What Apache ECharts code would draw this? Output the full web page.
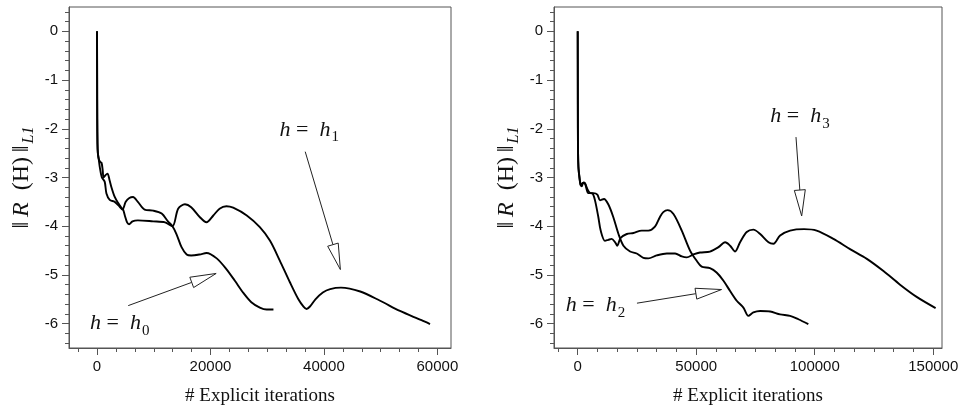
<!DOCTYPE html>
<html><head><meta charset="utf-8">
<script src="https://cdn.jsdelivr.net/npm/echarts@6/dist/echarts.min.js"></script>
<style>html,body{margin:0;padding:0;background:#fff}#c{width:964px;height:411px}</style>
</head><body><div id="c"></div>
<script>
// ---------- data (left panel) ----------
const h0X = [0, 20, 40, 80, 150, 300, 480, 830, 1360, 1660, 2240, 3120, 4000, 4470, 5060, 5700, 6350, 7200, 8400, 9900, 11400, 12500, 13300, 14000, 14900, 15800, 16600, 18100, 19300, 21100, 22800, 24300, 25800, 27200, 28700, 29900, 31100];
const h0Y = [0, -1.0, -1.8, -2.3, -2.5, -2.62, -2.78, -2.99, -3.09, -3.33, -3.46, -3.5, -3.6, -3.66, -3.5, -3.42, -3.40, -3.5, -3.66, -3.68, -3.74, -3.9, -4.0, -4.16, -4.43, -4.58, -4.6, -4.58, -4.55, -4.66, -4.88, -5.12, -5.37, -5.56, -5.67, -5.71, -5.71];
const h1X = [0, 20, 40, 80, 150, 300, 550, 800, 1000, 1150, 1500, 1850, 2200, 2540, 3120, 3700, 4300, 4600, 4900, 5300, 5650, 6250, 7200, 9900, 12000, 13300, 14300, 15500, 16600, 18100, 19300, 20500, 21600, 22800, 24000, 26400, 28700, 30500, 32200, 34000, 35500, 36400, 36950, 37600, 38500, 39800, 41100, 43000, 46400, 49900, 53400, 57200, 58700];
const h1Y = [0, -1.0, -1.8, -2.3, -2.5, -2.62, -2.68, -2.7, -2.85, -3.0, -2.95, -2.92, -3.05, -3.2, -3.4, -3.52, -3.62, -3.66, -3.78, -3.92, -3.96, -3.9, -3.88, -3.9, -3.92, -4.0, -3.64, -3.55, -3.61, -3.81, -3.92, -3.78, -3.64, -3.59, -3.62, -3.78, -4.02, -4.3, -4.7, -5.15, -5.5, -5.65, -5.70, -5.64, -5.5, -5.36, -5.29, -5.26, -5.34, -5.53, -5.74, -5.93, -6.01];
// ---------- data (right panel) ----------
const h2X = [0, 40, 80, 150, 300, 500, 700, 1200, 1700, 2400, 3100, 4200, 5200, 6300, 7300, 8700, 9700, 11500, 12900, 14300, 15800, 16700, 18100, 20700, 23500, 27000, 29800, 32600, 34700, 36100, 37900, 40400, 43900, 47400, 50200, 52300, 55800, 58600, 61500, 64300, 67100, 69900, 72000, 74100, 77000, 81200, 85400, 89600, 93100, 97300];
const h2Y = [0, -1.0, -2.0, -2.5, -2.78, -2.9, -3.0, -3.15, -3.18, -3.1, -3.12, -3.25, -3.32, -3.33, -3.47, -3.81, -4.09, -4.30, -4.28, -4.26, -4.33, -4.40, -4.24, -4.16, -4.14, -4.09, -4.09, -4.01, -3.81, -3.71, -3.67, -3.75, -4.09, -4.5, -4.71, -4.83, -4.86, -4.95, -5.12, -5.33, -5.53, -5.67, -5.84, -5.77, -5.74, -5.75, -5.81, -5.84, -5.91, -6.01];
const h3X = [0, 40, 80, 150, 300, 500, 700, 1300, 2100, 3100, 4500, 6600, 8300, 9400, 11100, 12900, 15000, 17200, 19300, 22100, 24900, 27700, 29800, 33300, 37600, 41100, 43900, 46000, 48800, 51600, 55800, 59400, 62200, 64300, 66400, 68500, 71300, 74100, 77000, 80500, 82600, 85400, 89600, 95500, 100800, 107900, 114900, 122000, 129000, 136000, 143000, 151000];
const h3Y = [0, -1.0, -2.0, -2.5, -2.78, -2.9, -2.96, -3.16, -3.11, -3.13, -3.32, -3.32, -3.35, -3.47, -3.44, -3.55, -3.81, -4.16, -4.4, -4.52, -4.56, -4.65, -4.66, -4.6, -4.56, -4.56, -4.62, -4.64, -4.58, -4.54, -4.52, -4.43, -4.33, -4.4, -4.52, -4.33, -4.12, -4.07, -4.16, -4.33, -4.36, -4.19, -4.09, -4.06, -4.09, -4.26, -4.47, -4.67, -4.92, -5.2, -5.45, -5.68];
// ---------- ticks ----------
const xMajorL = [0, 20000, 40000, 60000];
const xMinorL = [-3333, 3333, 6667, 10000, 13333, 16667, 23333, 26667, 30000, 33333, 36667, 43333, 46667, 50000, 53333, 56667];
const xMajorR = [0, 50000, 100000, 150000];
const xMinorR = [-8333, 8333, 16667, 25000, 33333, 41667, 58333, 66667, 75000, 83333, 91667, 108333, 116667, 125000, 133333, 141667];
const yMajor = [-6, -5, -4, -3, -2, -1, 0];
const yMinor = [-6.4, -6.2, -5.8, -5.6, -5.4, -5.2, -4.8, -4.6, -4.4, -4.2, -3.8, -3.6, -3.4, -3.2, -2.8, -2.6, -2.4, -2.2, -1.8, -1.6, -1.4, -1.2, -0.8, -0.6, -0.4, -0.2, 0.2, 0.4];
// ---------- annotations (data coords) ----------
const labelsL = [[4000, -6.0, 0], [37400, -2.02, 1]];
const arrowsL = [[5500, -5.63, 21000, -4.97], [36700, -2.47, 42900, -4.89]];
const labelsR = [[93800, -1.75, 3], [7500, -5.63, 2]];
const arrowsR = [[92100, -2.17, 94500, -3.79], [25000, -5.58, 60700, -5.30]];
const labelSubs = ['0', '1', '2', '3'];

const zip = (a, b) => a.map((v, i) => [v, b[i]]);
const SERIF = 'Liberation Serif';
const SANS = 'Liberation Sans';
const AX = '#555';

function mainX(grid, min, max, ticks) {
  return {
    type: 'value', gridIndex: grid, min, max, position: 'bottom',
    axisLine: { show: true, onZero: false, lineStyle: { color: AX, width: 1 } },
    axisTick: { show: true, customValues: ticks, length: 7, lineStyle: { color: AX } },
    axisLabel: { customValues: ticks, margin: 11, fontFamily: SANS, fontSize: 15, color: '#111', formatter: v => String(v) },
    splitLine: { show: false },
    name: '# Explicit iterations', nameLocation: 'middle', nameGap: 39,
    nameTextStyle: { fontFamily: SERIF, fontSize: 19, color: '#111' }
  };
}
function minorX(grid, min, max, ticks) {
  return {
    type: 'value', gridIndex: grid, min, max, position: 'bottom',
    axisLine: { show: false, onZero: false },
    axisTick: { show: true, customValues: ticks, length: 4, lineStyle: { color: AX } },
    axisLabel: { show: false }, splitLine: { show: false }
  };
}
function mainY(grid) {
  return {
    type: 'value', gridIndex: grid, min: -6.5, max: 0.5, position: 'left',
    axisLine: { show: true, onZero: false, lineStyle: { color: AX, width: 1 } },
    axisTick: { show: true, customValues: yMajor, length: 7, lineStyle: { color: AX } },
    axisLabel: { customValues: yMajor, margin: 11, fontFamily: SANS, fontSize: 15, color: '#111', formatter: v => String(v) },
    splitLine: { show: false },
    name: '{n|‖\u2009}{i|R}{n|  (H)\u2009‖}{s|L1}', nameLocation: 'middle', nameRotate: 90, nameGap: 35,
    nameTextStyle: {
      rich: {
        n: { fontFamily: SERIF, fontSize: 24, color: '#111', lineHeight: 24, verticalAlign: 'top' },
        i: { fontFamily: SERIF, fontStyle: 'italic', fontSize: 24, color: '#111', lineHeight: 24, verticalAlign: 'top' },
        s: { fontFamily: SERIF, fontStyle: 'italic', fontSize: 16, color: '#111', lineHeight: 16, padding: [11, 0, 0, 2], verticalAlign: 'top' }
      }
    }
  };
}
function minorY(grid) {
  return {
    type: 'value', gridIndex: grid, min: -6.5, max: 0.5, position: 'left',
    axisLine: { show: false, onZero: false },
    axisTick: { show: true, customValues: yMinor, length: 4, lineStyle: { color: AX } },
    axisLabel: { show: false }, splitLine: { show: false }
  };
}
function lineSeries(xi, yi, xs, ys) {
  return {
    type: 'line', xAxisIndex: xi, yAxisIndex: yi, data: zip(xs, ys),
    showSymbol: false, smooth: 0.3, lineStyle: { color: '#000', width: 1.9 }, silent: true
  };
}
function arrowSeries(xi, yi, arr) {
  return {
    type: 'custom', coordinateSystem: 'cartesian2d', xAxisIndex: xi, yAxisIndex: yi,
    data: arr, encode: { x: [0, 2], y: [1, 3] }, silent: true, z: 5,
    renderItem: (params, api) => {
      const a = api.coord([api.value(0), api.value(1)]);
      const b = api.coord([api.value(2), api.value(3)]);
      const dx = b[0] - a[0], dy = b[1] - a[1];
      const len = Math.sqrt(dx * dx + dy * dy);
      const ux = dx / len, uy = dy / len;
      const L = 26, W = 5.5;
      const bx = b[0] - ux * L, by = b[1] - uy * L;
      return {
        type: 'group', children: [
          { type: 'line', shape: { x1: a[0], y1: a[1], x2: bx, y2: by }, style: { stroke: '#222', lineWidth: 1 } },
          { type: 'polygon', shape: { points: [[b[0], b[1]], [bx - uy * W, by + ux * W], [bx + uy * W, by - ux * W]] },
            style: { fill: '#fff', stroke: '#222', lineWidth: 1 } }
        ]
      };
    }
  };
}
function labelSeries(xi, yi, arr) {
  return {
    type: 'custom', coordinateSystem: 'cartesian2d', xAxisIndex: xi, yAxisIndex: yi,
    data: arr, silent: true, z: 6,
    renderItem: (params, api) => {
      const p = api.coord([api.value(0), api.value(1)]);
      return {
        type: 'text', x: p[0], y: p[1],
        style: {
          text: '{i|h}{n| =  }{i|h}{s|' + labelSubs[api.value(2)] + '}',
          align: 'center', verticalAlign: 'middle',
          rich: {
            i: { fontFamily: SERIF, fontStyle: 'italic', fontSize: 22, fill: '#111', lineHeight: 22, verticalAlign: 'top' },
            n: { fontFamily: SERIF, fontSize: 22, fill: '#111', lineHeight: 22, verticalAlign: 'top' },
            s: { fontFamily: SERIF, fontSize: 15, fill: '#111', lineHeight: 15, padding: [11, 0, 0, 1], verticalAlign: 'top' }
          }
        }
      };
    }
  };
}

const chart = echarts.init(document.getElementById('c'), null, { renderer: 'canvas' });
chart.setOption({
  animation: false,
  backgroundColor: '#fff',
  grid: [
    { left: 69, top: 7, width: 382, height: 341, show: true, borderColor: AX, borderWidth: 1, backgroundColor: 'transparent' },
    { left: 554, top: 7, width: 388, height: 341, show: true, borderColor: AX, borderWidth: 1, backgroundColor: 'transparent' }
  ],
  xAxis: [
    mainX(0, -4940, 62400, xMajorL), minorX(0, -4940, 62400, xMinorL),
    mainX(1, -10000, 153700, xMajorR), minorX(1, -10000, 153700, xMinorR)
  ],
  yAxis: [mainY(0), minorY(0), mainY(1), minorY(1)],
  series: [
    lineSeries(0, 0, h0X, h0Y), lineSeries(0, 0, h1X, h1Y),
    lineSeries(2, 2, h2X, h2Y), lineSeries(2, 2, h3X, h3Y),
    arrowSeries(0, 0, arrowsL), arrowSeries(2, 2, arrowsR),
    labelSeries(0, 0, labelsL), labelSeries(2, 2, labelsR)
  ]
});
</script></body></html>
